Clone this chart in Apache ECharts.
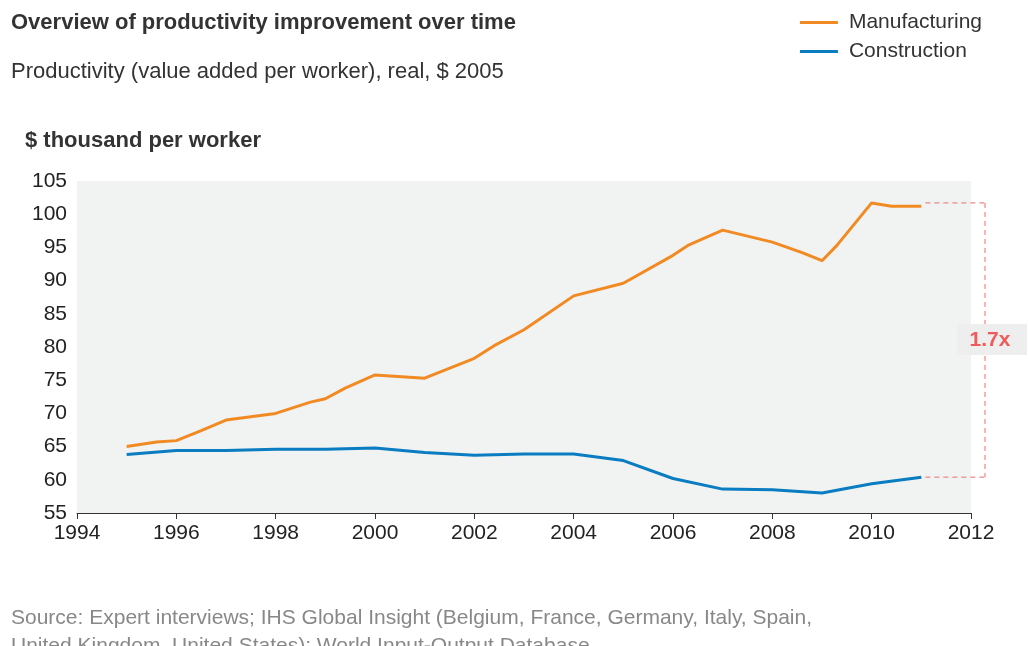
<!DOCTYPE html>
<html><head><meta charset="utf-8">
<script src="https://cdn.jsdelivr.net/npm/echarts@6/dist/echarts.min.js"></script>
<style>html,body{margin:0;padding:0;background:#fff}#c{width:1029px;height:646px}</style>
</head><body><div id="c"></div>
<script>
var mfgYears = [1995, 1995.6, 1996, 1996.5, 1997, 1998, 1998.7, 1999, 1999.4, 2000, 2001, 2002, 2002.4, 2003, 2004, 2005, 2006, 2006.3, 2007, 2008, 2008.6, 2009, 2009.3, 2010, 2010.4, 2011];
var mfgValues = [65, 65.7, 65.9, 67.4, 69, 70, 71.7, 72.2, 73.8, 75.8, 75.3, 78.3, 80.2, 82.6, 87.7, 89.6, 93.8, 95.3, 97.6, 95.8, 94.2, 93, 95.3, 101.7, 101.2, 101.2];
var conYears = [1995, 1996, 1997, 1998, 1999, 2000, 2001, 2002, 2003, 2004, 2005, 2006, 2007, 2008, 2009, 2010, 2011];
var conValues = [63.8, 64.4, 64.4, 64.6, 64.6, 64.8, 64.1, 63.7, 63.9, 63.9, 62.9, 60.2, 58.6, 58.5, 58, 59.4, 60.4];

function pairs(xs, ys) { return xs.map(function (x, i) { return [x, ys[i]]; }); }

var chart = echarts.init(document.getElementById('c'));
var font = 'Helvetica, Arial, "Liberation Sans", sans-serif';
chart.setOption({
  animation: false,
  textStyle: { fontFamily: font },
  title: [
    { text: 'Overview of productivity improvement over time', left: 6, top: 7,
      textStyle: { fontSize: 22, fontWeight: 'bold', color: '#333' } },
    { text: 'Productivity (value added per worker), real, $ 2005', left: 6, top: 56,
      textStyle: { fontSize: 22, fontWeight: 'normal', color: '#333' } },
    { text: '$ thousand per worker', left: 20, top: 125,
      textStyle: { fontSize: 22, fontWeight: 'bold', color: '#333' } },
    { text: 'Source: Expert interviews; IHS Global Insight (Belgium, France, Germany, Italy, Spain,\nUnited Kingdom, United States); World Input-Output Database', left: 6, top: 599,
      textStyle: { fontSize: 21, fontWeight: 'normal', color: '#888', lineHeight: 28 } }
  ],
  legend: {
    right: 42, top: 7, orient: 'vertical', itemGap: 8, itemWidth: 38, itemHeight: 3,
    icon: 'rect', textStyle: { fontSize: 21, color: '#333', padding: [0, 0, 0, 6] },
    data: ['Manufacturing', 'Construction']
  },
  grid: { left: 77, right: 58, top: 181, bottom: 133, show: true, backgroundColor: '#f1f3f3', borderWidth: 0 },
  xAxis: {
    type: 'value', min: 1994, max: 2012, interval: 2,
    axisLine: { show: true, lineStyle: { color: '#333' } },
    axisTick: { show: true, length: 6, lineStyle: { color: '#333' } },
    splitLine: { show: false },
    axisLabel: { fontSize: 21, color: '#222', margin: 10, formatter: function (v) { return String(v); } }
  },
  yAxis: {
    type: 'value', min: 55, max: 105, interval: 5,
    axisLine: { show: false }, axisTick: { show: false }, splitLine: { show: false },
    axisLabel: { fontSize: 21, color: '#222', margin: 10 }
  },
  series: [
    { name: 'Manufacturing', type: 'line', data: pairs(mfgYears, mfgValues), showSymbol: false,
      lineStyle: { color: '#f28a24', width: 3 }, itemStyle: { color: '#f28a24' } },
    { name: 'Construction', type: 'line', data: pairs(conYears, conValues), showSymbol: false,
      lineStyle: { color: '#0a7cc1', width: 3 }, itemStyle: { color: '#0a7cc1' } }
  ]
});

var hiPt = chart.convertToPixel('grid', [2011, mfgValues[mfgValues.length - 1] + 0.5]);
var loPt = chart.convertToPixel('grid', [2011, conValues[conValues.length - 1]]);
var xr = 985;
var dash = { stroke: '#ef6b6b', lineWidth: 1, lineDash: [5, 4] };
chart.setOption({
  graphic: [
    { type: 'line', shape: { x1: hiPt[0] + 4, y1: hiPt[1], x2: xr, y2: hiPt[1] }, style: dash },
    { type: 'line', shape: { x1: loPt[0] + 4, y1: loPt[1], x2: xr, y2: loPt[1] }, style: dash },
    { type: 'line', shape: { x1: xr, y1: hiPt[1], x2: xr, y2: loPt[1] }, style: dash },
    { type: 'rect', shape: { x: 957, y: 324, width: 70, height: 31 }, style: { fill: '#eeeeee' } },
    { type: 'text', x: 990, y: 340, style: { text: '1.7x', fill: '#ef5a5a', font: 'bold 21px ' + font, align: 'center', verticalAlign: 'middle' } }
  ]
});
</script></body></html>
